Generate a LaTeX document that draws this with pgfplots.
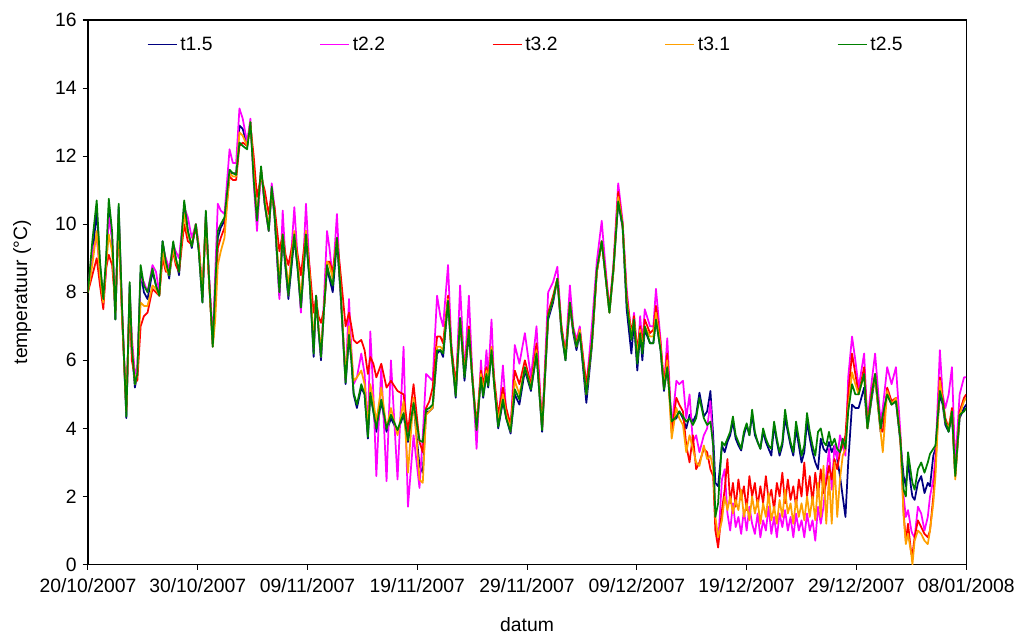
\documentclass[border=0pt]{standalone}
\usepackage{pgfplots}
\pgfplotsset{compat=1.18}
\usepackage{pgfplotstable}
\usepackage{fontspec}
\setmainfont{Liberation Sans}

\definecolor{cBlue}{RGB}{0,0,128}
\definecolor{cMag}{RGB}{255,0,255}
\definecolor{cRed}{RGB}{255,0,0}
\definecolor{cOra}{RGB}{255,160,0}
\definecolor{cGre}{RGB}{0,128,0}

% days since 20/10/2007; sensors t1.5, t2.2, t3.2, t3.1, t2.5
\pgfplotstableread{
d b m r o g
0.0 8.0 8.1 8.0 8.0 8.0
0.4 9.0 9.2 8.5 8.8 9.5
0.8 10.4 9.6 9.0 9.8 10.7
1.1 8.8 8.6 8.2 8.5 8.9
1.4 7.8 7.7 7.5 7.7 7.8
1.65 8.8 8.6 8.7 8.8 9.0
1.9 10.4 10.2 9.1 9.7 10.75
2.2 9.6 9.6 8.8 9.2 9.8
2.5 7.2 7.4 7.6 7.4 7.2
2.8 10.5 10.3 10.0 10.2 10.6
3.1 7.5 7.6 7.3 7.4 7.6
3.5 4.3 4.5 4.6 4.5 4.35
3.8 8.2 8.0 7.8 8.0 8.3
4.0 6.3 6.7 6.0 6.5 6.4
4.28 5.2 5.6 5.5 5.3 5.3
4.5 5.6 5.8 5.4 5.6 5.6
4.8 8.6 8.4 7.0 7.7 8.8
5.1 8.0 8.3 7.3 7.6 8.2
5.43 7.8 8.0 7.4 7.6 8.0
5.88 8.6 8.8 8.1 8.2 8.7
6.2 8.2 8.6 8.0 8.1 8.2
6.5 7.9 8.0 7.9 7.9 7.9
6.8 9.5 9.3 9.0 9.2 9.5
7.1 8.9 9.0 8.6 8.7 8.9
7.4 8.4 8.7 8.6 8.5 8.5
7.77 9.4 9.4 9.2 9.3 9.5
8.0 9.0 9.2 8.8 8.9 9.0
8.3 8.5 9.0 8.6 8.7 8.6
8.77 10.6 10.5 10.0 10.3 10.7
9.1 9.8 10.2 9.5 9.7 9.8
9.46 9.3 9.6 9.4 9.4 9.35
9.83 10.0 10.0 9.9 10.0 10.0
10.1 9.2 9.4 9.3 9.3 9.2
10.43 7.7 7.9 8.0 8.0 7.7
10.74 10.3 10.2 10.1 10.2 10.4
11.0 8.6 8.7 8.5 8.5 8.6
11.37 6.4 6.6 6.5 6.4 6.4
11.6 8.0 8.6 7.6 7.2 8.2
11.83 9.6 10.6 9.3 8.8 9.8
12.1 9.9 10.4 9.6 9.2 10.0
12.44 10.1 10.3 9.9 9.6 10.2
12.9 11.5 12.2 11.4 11.5 11.6
13.2 11.5 11.8 11.3 11.4 11.5
13.5 11.5 11.8 11.3 11.4 11.45
13.8 12.9 13.4 12.3 12.7 12.4
14.1 12.8 13.1 12.4 12.6 12.3
14.5 12.3 12.4 12.3 12.3 12.2
14.8 13.0 13.1 12.9 13.0 13.0
15.1 11.5 11.2 12.0 11.5 11.3
15.4 10.1 9.8 10.8 10.2 10.1
15.77 11.6 11.6 11.4 11.6 11.7
16.1 10.6 10.6 11.0 10.7 10.6
16.47 9.8 9.8 10.3 9.9 9.8
16.74 11.0 11.2 10.9 11.0 11.1
17.0 10.2 10.5 10.5 10.3 10.3
17.44 7.9 7.8 9.2 8.3 8.0
17.74 9.6 10.4 9.7 9.7 9.7
18.0 8.7 8.9 9.1 8.9 8.8
18.26 7.8 7.9 8.8 8.2 7.9
18.8 9.6 10.5 9.7 9.8 9.7
19.1 8.7 9.0 9.1 8.9 8.7
19.4 7.5 7.4 8.5 7.8 7.55
19.86 9.6 10.6 9.8 9.8 9.7
20.2 8.3 8.6 8.7 8.5 8.3
20.56 6.1 6.3 7.4 6.5 6.2
20.78 7.9 7.9 7.8 7.9 7.9
21.0 6.9 7.0 7.3 7.0 6.9
21.23 6.0 6.1 7.1 6.3 6.1
21.5 7.5 7.8 7.5 7.5 7.5
21.78 8.7 9.8 8.9 8.9 8.8
22.0 8.4 9.3 8.9 8.8 8.5
22.3 8.0 8.4 8.6 8.4 8.2
22.68 9.5 10.3 9.6 9.6 9.6
23.0 8.0 8.2 8.6 8.2 8.1
23.47 5.3 5.4 7.0 5.5 5.35
23.78 6.7 7.8 7.4 7.0 6.75
24.0 6.0 6.3 7.0 6.2 6.0
24.2 5.0 5.3 6.6 5.4 5.05
24.5 4.6 5.5 6.5 5.5 4.7
24.9 5.2 6.2 6.6 5.7 5.3
25.2 5.0 5.6 6.3 5.3 5.0
25.5 3.7 3.9 5.6 4.0 3.75
25.72 5.0 6.85 6.1 5.3 5.05
26.0 4.5 5.0 5.9 4.8 4.5
26.27 3.9 2.6 5.5 4.2 4.0
26.72 4.8 5.8 5.9 5.2 4.85
27.2 3.9 2.45 5.2 4.0 4.0
27.6 4.3 6.0 5.4 4.6 4.4
28.2 3.9 2.5 5.1 3.8 3.95
28.75 4.4 6.4 5.0 4.8 4.45
29.15 3.6 1.7 3.9 2.7 3.65
29.66 4.7 3.8 5.3 4.9 4.75
30.2 2.9 2.25 3.6 2.5 3.65
30.5 2.7 3.8 3.3 2.4 3.6
30.8 4.5 5.6 4.6 4.4 4.55
31.1 4.5 5.5 4.8 4.5 4.6
31.4 4.6 5.4 5.2 4.6 4.7
31.8 6.2 7.9 6.7 6.4 6.3
32.1 6.3 7.3 6.7 6.4 6.3
32.35 6.1 7.0 6.5 6.3 6.2
32.8 7.7 8.8 7.9 7.8 7.75
33.1 6.3 6.5 6.4 6.2 6.3
33.5 4.9 5.0 5.3 5.1 4.95
33.9 7.2 8.2 7.2 7.2 7.25
34.3 5.4 5.6 5.7 5.6 5.5
34.7 6.8 7.9 7.0 6.9 6.9
35.0 5.5 5.7 5.6 5.5 5.5
35.4 3.9 3.4 4.1 4.0 3.95
35.8 5.5 6.0 5.7 5.6 5.5
36.0 4.9 5.0 5.3 5.1 4.95
36.3 5.6 6.3 5.8 5.7 5.6
36.46 5.2 5.5 5.5 5.4 5.25
36.76 6.3 7.2 6.4 6.4 6.3
37.0 5.3 5.4 5.5 5.3 5.3
37.37 4.0 4.1 4.4 4.2 4.05
37.8 4.8 5.85 5.2 5.0 4.85
38.1 4.3 4.5 4.6 4.4 4.3
38.5 3.85 3.9 4.1 4.0 3.9
38.88 5.0 6.45 5.7 5.4 5.15
39.3 4.7 5.9 5.3 5.0 4.85
39.8 5.7 6.8 6.0 5.8 5.8
40.35 5.1 5.5 5.3 5.2 5.15
40.86 6.2 7.0 6.5 6.3 6.2
41.37 3.9 4.0 4.1 4.0 3.95
41.92 7.2 8.0 7.4 7.3 7.3
42.37 7.7 8.3 7.9 7.8 7.8
42.76 8.4 8.75 8.4 8.4 8.4
43.13 6.8 7.0 7.0 6.9 6.9
43.5 6.0 6.2 6.2 6.1 6.0
43.9 7.6 8.2 7.7 7.7 7.7
44.2 6.8 7.0 6.9 6.9 6.9
44.5 6.3 6.6 6.5 6.4 6.4
44.8 6.8 7.0 6.9 6.9 6.8
45.4 4.75 5.2 5.3 5.0 5.0
45.9 6.4 7.0 6.5 6.5 6.5
46.35 8.6 8.9 8.6 8.6 8.66
46.8 9.5 10.1 9.5 9.5 9.5
47.1 8.6 8.9 8.7 8.6 8.6
47.5 7.4 7.5 7.5 7.4 7.4
47.86 8.6 8.8 8.7 8.6 8.66
48.3 10.65 11.2 10.95 10.8 10.67
48.7 9.9 10.1 10.0 10.0 9.98
49.07 7.5 8.1 7.9 7.8 7.7
49.5 6.2 6.7 6.8 6.7 6.6
49.74 7.1 7.4 7.3 7.2 7.2
50.04 5.7 6.0 6.3 6.1 5.9
50.3 6.8 7.3 7.0 6.9 6.8
50.5 6.0 6.5 6.5 6.3 6.2
50.72 6.9 7.5 7.2 7.0 7.0
51.2 6.5 7.0 6.8 6.7 6.5
51.5 6.5 7.0 6.9 6.7 6.5
51.74 7.2 8.1 7.6 7.4 7.2
52.16 6.3 6.6 6.5 6.4 6.3
52.47 5.1 5.2 5.3 5.2 5.15
52.77 5.8 6.65 6.2 6.0 5.8
53.17 4.2 4.0 3.9 3.7 4.2
53.6 4.3 5.4 4.9 4.6 4.35
53.86 4.5 5.3 4.7 4.3 4.5
54.2 4.3 5.4 4.5 4.1 4.35
54.5 4.0 4.3 3.5 3.3 4.2
54.8 4.4 5.0 3.0 3.8 4.3
55.1 4.2 3.6 3.8 3.4 4.1
55.4 4.4 3.8 2.8 3.0 4.3
55.7 5.05 3.3 3.0 2.9 4.9
56.1 4.35 3.8 3.4 3.5 4.3
56.4 4.5 4.0 3.3 3.1 4.1
56.7 5.1 4.8 2.8 3.2 4.2
56.95 3.8 3.4 2.6 2.8 3.5
57.15 2.4 1.3 1.0 1.4 1.4
57.4 2.3 0.6 0.5 0.8 1.8
57.75 3.5 2.5 1.6 1.3 3.6
58.0 3.3 2.8 2.2 2.0 3.5
58.25 3.6 1.5 3.1 1.6 3.7
58.5 3.8 1.0 1.8 2.0 3.9
58.75 4.2 1.8 2.4 1.5 4.35
59.0 3.7 1.1 1.7 1.9 3.8
59.25 3.5 1.4 2.5 1.6 3.6
59.5 3.35 0.9 1.9 2.2 3.4
59.75 3.8 1.6 2.3 1.4 3.9
60.0 4.1 1.0 1.6 1.8 4.15
60.25 3.8 1.7 2.6 1.3 3.8
60.5 4.4 1.2 2.0 2.0 4.55
60.75 3.8 0.9 2.4 1.5 3.9
61.0 3.6 1.5 1.7 1.9 3.6
61.25 3.4 0.8 2.3 1.2 3.4
61.5 3.9 1.3 1.8 1.8 4.0
61.75 3.6 1.0 2.6 1.4 3.7
62.0 3.4 1.7 1.9 2.1 3.5
62.25 3.2 0.9 2.2 1.3 3.4
62.5 4.1 1.4 1.6 1.7 4.2
62.75 3.6 0.8 2.4 1.2 3.7
63.0 3.2 1.5 2.0 1.9 3.3
63.25 3.5 1.1 2.7 1.4 3.6
63.5 4.3 1.6 1.8 2.2 4.55
63.75 3.9 1.0 2.5 1.5 4.0
64.0 3.5 1.4 1.9 1.8 3.6
64.25 3.2 0.8 2.3 1.2 3.3
64.5 4.0 1.5 1.7 1.9 4.2
64.75 3.5 1.0 2.5 1.4 3.7
65.0 3.0 1.3 2.0 1.8 3.2
65.25 3.3 0.8 3.0 1.3 3.5
65.5 4.2 1.5 2.0 2.0 4.45
65.75 3.7 1.0 2.6 1.4 3.9
66.0 3.3 1.3 1.8 2.0 3.5
66.25 3.0 0.7 2.7 1.3 3.2
66.5 2.8 1.7 2.0 2.4 3.9
66.75 3.7 1.2 2.8 1.4 4.0
67.0 3.4 1.7 2.1 2.9 3.6
67.25 3.3 2.6 2.4 1.2 3.5
67.5 3.6 3.4 2.9 2.6 3.9
67.75 3.3 2.2 2.5 1.2 3.5
68.0 3.5 3.5 3.1 3.0 3.7
68.25 3.1 3.1 2.8 1.4 3.4
68.5 2.6 3.8 3.3 2.5 3.3
68.75 2.0 3.5 3.5 3.2 3.7
69.0 1.4 3.2 3.8 3.4 3.4
69.25 3.0 5.5 5.0 4.6 4.5
69.6 4.7 6.7 6.2 5.65 5.3
69.9 4.6 6.0 5.6 5.3 5.0
70.2 4.6 5.2 5.0 5.0 5.0
70.7 5.2 6.2 5.8 5.6 5.6
71.0 4.0 4.2 4.1 4.0 4.0
71.4 4.9 5.4 5.1 5.0 5.0
71.7 5.5 6.2 5.6 5.5 5.6
72.2 3.9 4.2 4.0 3.9 4.0
72.4 4.4 4.6 3.9 3.3 4.4
72.8 5.0 5.8 5.2 5.1 5.0
73.2 4.7 5.3 4.8 4.7 4.7
73.6 4.8 5.8 4.9 4.9 4.8
74.0 3.6 3.9 3.7 3.7 3.7
74.3 2.6 2.0 1.5 1.4 2.2
74.5 2.3 1.4 0.7 0.6 2.0
74.7 3.0 1.6 1.2 0.9 3.3
75.0 2.2 1.0 0.3 0.3 2.6
75.1 2.0 0.9 0.3 0.0 2.4
75.3 1.9 0.8 0.8 0.7 2.2
75.6 2.4 1.7 1.3 1.0 2.8
75.9 2.6 1.5 1.1 0.9 3.0
76.2 2.1 1.0 0.9 0.7 2.7
76.5 2.4 1.4 0.8 0.6 3.0
76.7 2.3 2.0 1.0 1.0 3.25
77.0 3.2 2.5 2.0 1.8 3.4
77.2 3.4 3.2 2.9 2.6 3.5
77.6 5.0 6.3 5.5 5.4 5.1
77.85 4.7 5.0 4.9 4.8 4.8
78.1 4.1 4.6 4.3 4.2 4.2
78.4 3.9 5.0 4.0 4.0 3.9
78.7 4.4 5.8 4.6 4.5 4.5
79.0 2.6 2.9 2.6 2.5 2.6
79.4 4.3 5.0 4.5 4.4 4.4
79.8 4.6 5.5 4.9 4.8 4.5
80.0 4.7 5.5 5.0 4.9 4.6
}\temps

\begin{document}
\begin{tikzpicture}
\begin{axis}[
  name=ax,
  scale only axis,
  width=659.25pt, height=408.75pt,
  xmin=0, xmax=80, ymin=0, ymax=16,
  xtick={0,10,...,80},
  xticklabels={20/10/2007,30/10/2007,09/11/2007,19/11/2007,29/11/2007,09/12/2007,19/12/2007,29/12/2007,08/01/2008},
  ytick={0,2,...,16},
  xtick pos=bottom, ytick pos=left,
  tick align=outside,
  major tick length=4pt,
  axis line style={black, line width=0.9pt},
  every tick/.style={black, line width=0.8pt},
  /pgf/number format/assume math mode=true,
  tick label style={font=\fontsize{14.5}{17}\selectfont},
  label style={font=\fontsize{14.5}{17}\selectfont},
  xlabel={datum},
  ylabel={temperatuur (°C)},
  xlabel style={at={(axis description cs:0.5,-0.11)}, anchor=center},
  ylabel style={at={(axis description cs:-0.075,0.5)}, anchor=center},
  yticklabel style={xshift=-1pt},
  xticklabel style={yshift=-3pt},
  legend columns=5,
  legend style={draw=none, fill=none,
    at={(axis description cs:0.062,0.955)}, anchor=west,
    font=\fontsize{14.5}{17}\selectfont,
    /tikz/every even column/.append style={column sep=78pt}},
  legend image code/.code={\draw[#1] (0pt,0pt) -- (22pt,0pt);},
  every axis plot/.append style={line width=1.3pt, line join=round},
]
\addplot[cBlue] table[x=d, y=b] {\temps};
\addlegendentry{t1.5}
\addplot[cMag] table[x=d, y=m] {\temps};
\addlegendentry{t2.2}
\addplot[cRed] table[x=d, y=r] {\temps};
\addlegendentry{t3.2}
\addplot[cOra] table[x=d, y=o] {\temps};
\addlegendentry{t3.1}
\addplot[cGre] table[x=d, y=g] {\temps};
\addlegendentry{t2.5}
\end{axis}
\path ([shift={(-66pt,-51.75pt)}]ax.south west) rectangle ([shift={(39pt,15pt)}]ax.north east);
\end{tikzpicture}
\end{document}
